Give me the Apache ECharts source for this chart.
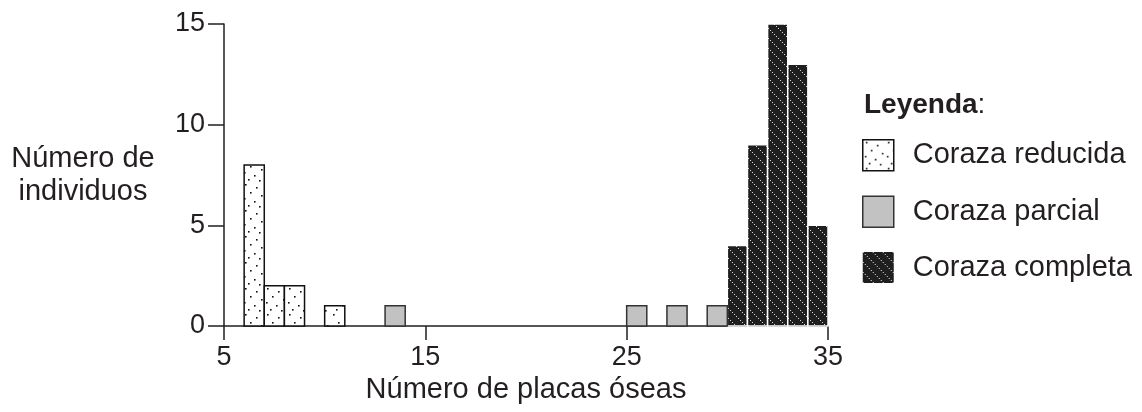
<!DOCTYPE html>
<html>
<head>
<meta charset="utf-8">
<script src="https://cdn.jsdelivr.net/npm/echarts@6/dist/echarts.min.js"></script>
<style>
  html, body { margin: 0; padding: 0; background: #fff; }
  #chart { width: 1142px; height: 412px; }
</style>
</head>
<body>
<div id="chart"></div>
<script>
// Histogram bins: left edge of each one-plate-wide bin and number of individuals
const placasReducida = [6, 7, 8, 10];
const individuosReducida = [8, 2, 2, 1];
const placasParcial = [13, 25, 27, 29];
const individuosParcial = [1, 1, 1, 1];
const placasCompleta = [30, 31, 32, 33, 34];
const individuosCompleta = [4, 9, 15, 13, 5];

const xTicks = [5, 15, 25, 35];
const yTicks = [0, 5, 10, 15];

const FONT = "'Liberation Sans', Arial, Helvetica, sans-serif";
const INK = '#231f20';

// Stippled texture: white with sparse black dots
function makeDots() {
  const c = document.createElement('canvas');
  c.width = 22; c.height = 26;
  const g = c.getContext('2d');
  g.fillStyle = '#fff'; g.fillRect(0, 0, c.width, c.height);
  g.fillStyle = '#111';
  const pts = [[3, 2], [14, 5], [8, 10], [19, 13], [2, 16], [12, 19], [6, 23], [17, 24]];
  pts.forEach(p => g.fillRect(p[0], p[1], 1.6, 1.6));
  return { image: c, repeat: 'repeat' };
}

// Dark texture crossed by dotted white diagonals
function makeDiagonal() {
  const c = document.createElement('canvas');
  c.width = 10; c.height = 10;
  const g = c.getContext('2d');
  g.fillStyle = '#1f1f1f'; g.fillRect(0, 0, 10, 10);
  g.fillStyle = '#d8d8d8';
  [[0, 0], [2, 2], [4, 4], [6, 6], [8, 8]].forEach(p => g.fillRect(p[0], p[1], 1, 1));
  return { image: c, repeat: 'repeat' };
}

const dotFill = makeDots();
const diagFill = makeDiagonal();

const styles = {
  reducida: { fill: dotFill, stroke: '#111', lineWidth: 1.5 },
  parcial: { fill: '#c2c2c2', stroke: '#333', lineWidth: 1.5 },
  completa: { fill: diagFill, stroke: '#fff', lineWidth: 1.5 }
};

function binRenderer(style) {
  return function (params, api) {
    const x = api.value(0);
    const n = api.value(1);
    const p0 = api.coord([x, 0]);
    const p1 = api.coord([x + 1, n]);
    return {
      type: 'rect',
      shape: { x: p0[0], y: p1[1], width: p1[0] - p0[0], height: p0[1] - p1[1] },
      style: style
    };
  };
}

function pairs(xs, ys) { return xs.map((x, i) => [x, ys[i]]); }

const chart = echarts.init(document.getElementById('chart'), null, { renderer: 'canvas' });

chart.setOption({
  animation: false,
  backgroundColor: '#fff',
  textStyle: { fontFamily: FONT, color: INK },
  grid: { left: 224, right: 314, top: 24, bottom: 86, containLabel: false },
  title: {
    left: 864, top: 91, padding: 0,
    text: '{b|Leyenda}:',
    textStyle: {
      fontFamily: FONT, fontSize: 28, fontWeight: 'normal', color: INK,
      rich: { b: { fontFamily: FONT, fontSize: 28, fontWeight: 'bold', color: INK } }
    }
  },
  legend: {
    orient: 'vertical', left: 862, top: 139, padding: 0,
    itemWidth: 31, itemHeight: 31, itemGap: 24,
    selectedMode: false,
    icon: 'rect',
    textStyle: { fontFamily: FONT, fontSize: 29, color: INK, lineHeight: 31, padding: [0, 0, 0, 14] },
    data: [
      { name: 'Coraza reducida', icon: 'rect', itemStyle: { color: dotFill, borderColor: '#111', borderWidth: 1.5 } },
      { name: 'Coraza parcial', icon: 'rect', itemStyle: { color: '#c2c2c2', borderColor: '#333', borderWidth: 1.5 } },
      { name: 'Coraza completa', icon: 'rect', itemStyle: { color: diagFill, borderColor: '#1f1f1f', borderWidth: 0 } }
    ]
  },
  xAxis: {
    type: 'value', min: xTicks[0], max: xTicks[xTicks.length - 1], interval: 10,
    name: 'Número de placas óseas', nameLocation: 'middle', nameGap: 49,
    nameTextStyle: { fontFamily: FONT, fontSize: 29, color: INK },
    axisLine: { show: true, onZero: false, lineStyle: { color: INK, width: 1.5 } },
    axisTick: { show: true, length: 14, lineStyle: { color: INK, width: 1.5 } },
    axisLabel: { fontFamily: FONT, fontSize: 27, color: INK, margin: 18 },
    splitLine: { show: false }
  },
  yAxis: {
    type: 'value', min: yTicks[0], max: yTicks[yTicks.length - 1], interval: 5,
    name: 'Número de\nindividuos', nameLocation: 'middle', nameRotate: 0, nameGap: 141,
    nameTextStyle: { fontFamily: FONT, fontSize: 29, color: INK, align: 'center', lineHeight: 33 },
    axisLine: { show: true, lineStyle: { color: INK, width: 1.5 } },
    axisTick: { show: true, length: 16, lineStyle: { color: INK, width: 1.5 } },
    axisLabel: { fontFamily: FONT, fontSize: 27, color: INK, margin: 19 },
    splitLine: { show: false }
  },
  series: [
    {
      name: 'Coraza reducida', type: 'custom', renderItem: binRenderer(styles.reducida),
      itemStyle: { color: dotFill }, encode: { x: 0, y: 1 },
      data: pairs(placasReducida, individuosReducida), z: 3
    },
    {
      name: 'Coraza parcial', type: 'custom', renderItem: binRenderer(styles.parcial),
      itemStyle: { color: '#c2c2c2' }, encode: { x: 0, y: 1 },
      data: pairs(placasParcial, individuosParcial), z: 3
    },
    {
      name: 'Coraza completa', type: 'custom', renderItem: binRenderer(styles.completa),
      itemStyle: { color: diagFill }, encode: { x: 0, y: 1 },
      data: pairs(placasCompleta, individuosCompleta), z: 2
    }
  ]
});
</script>
</body>
</html>
